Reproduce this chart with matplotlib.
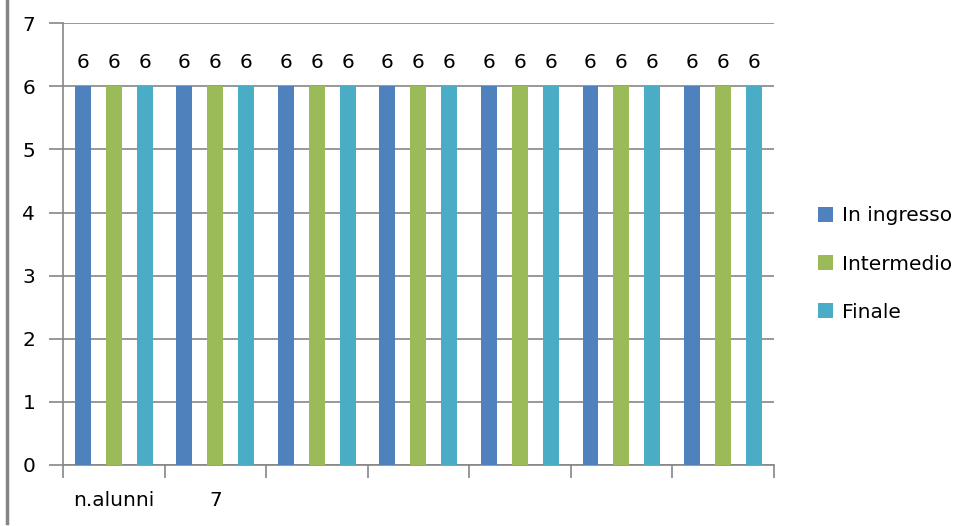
import numpy as np
import matplotlib.pyplot as plt
from matplotlib.lines import Line2D

categories = ["n.alunni", "7", "", "", "", "", ""]
series_names = ["In ingresso", "Intermedio", "Finale"]
in_ingresso = [6, 6, 6, 6, 6, 6, 6]
intermedio = [6, 6, 6, 6, 6, 6, 6]
finale = [6, 6, 6, 6, 6, 6, 6]
colors = ["#4F81BD", "#9BBB59", "#4BACC6"]

plt.rcParams["font.family"] = ["DejaVu Sans"]
fs = 14.5

fig = plt.figure(figsize=(9.6, 5.26), dpi=100)
ax = fig.add_axes([0.0656, 0.116, 0.7404, 0.84])

x = np.arange(len(categories))
width = 0.157
offset = 0.305
grey = "#868686"

for i, (vals, name, c) in enumerate(zip([in_ingresso, intermedio, finale], series_names, colors)):
    bars = ax.bar(x + (i - 1) * offset, vals, width, color=c, label=name, zorder=3)
    for b, v in zip(bars, vals):
        ax.text(b.get_x() + b.get_width() / 2, v + 0.22, str(v), ha="center", va="bottom",
                fontsize=fs, color="black")

ax.set_xlim(-0.5, len(categories) - 0.5)
ax.set_ylim(0, 7)
ax.set_yticks(range(0, 8))
ax.yaxis.grid(True, color=grey, linewidth=1.2, zorder=0)
ax.set_axisbelow(True)

ax.set_xticks(x)
ax.set_xticklabels(categories, fontsize=fs)
ax.set_xticks(np.arange(-0.5, len(categories)), minor=True)
ax.tick_params(axis="x", which="major", length=0, pad=19)
ax.tick_params(axis="x", which="minor", length=9, width=1.2, color=grey)
ax.tick_params(axis="y", length=10, width=1.2, color=grey, labelsize=fs, pad=10)

for s in ["top", "right"]:
    ax.spines[s].set_visible(False)
for s in ["left", "bottom"]:
    ax.spines[s].set_color(grey)
    ax.spines[s].set_linewidth(1.2)

leg = fig.legend(loc="center left", bbox_to_anchor=(0.852, 0.498), frameon=False, fontsize=fs,
                 handlelength=0.75, handleheight=0.75, handletextpad=0.45, labelspacing=1.45,
                 borderpad=0, borderaxespad=0)

# outer frame line on the left edge
fig.add_artist(Line2D([0.0073, 0.0073], [0.005, 1.0], color=grey, linewidth=2.5))

fig.savefig("out.png", dpi=100)
